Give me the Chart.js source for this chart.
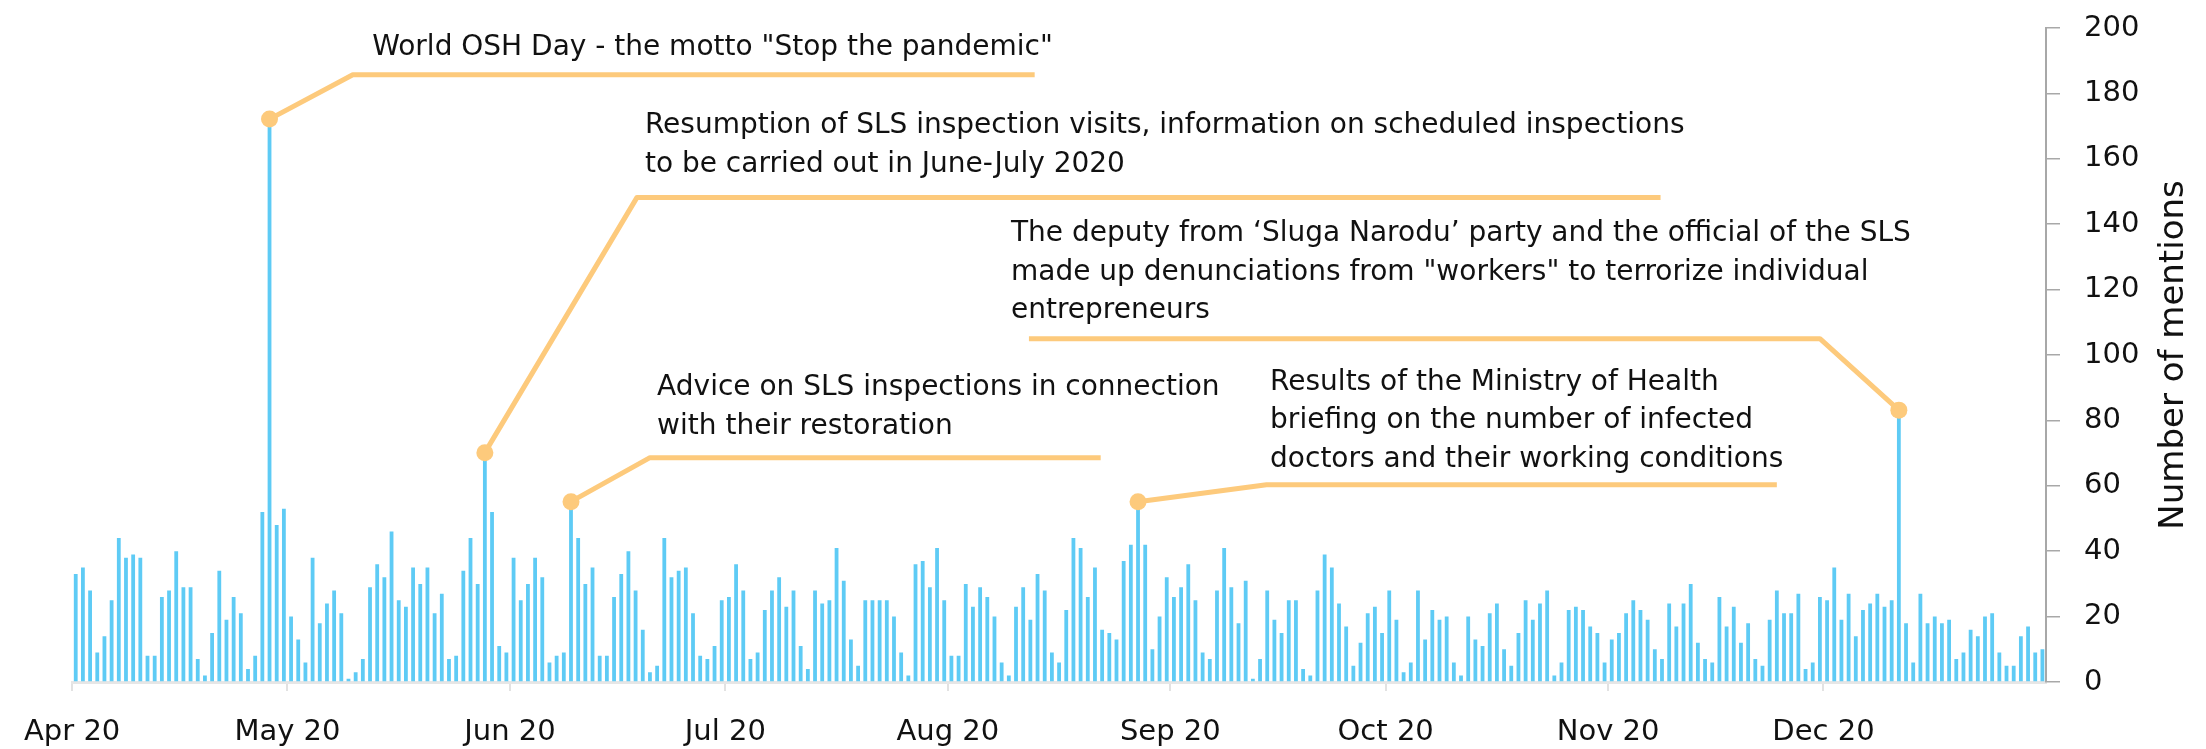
<!DOCTYPE html>
<html>
<head>
<meta charset="utf-8">
<script src="https://cdn.jsdelivr.net/npm/chart.js@4"></script>
<style>
  html, body { margin: 0; padding: 0; background: #fff; }
  #wrap { width: 2206px; height: 749px; }
</style>
</head>
<body>
<div id="wrap"><canvas id="c"></canvas></div>
<script>
// daily mentions, 1 Apr 2020 .. 31 Dec 2020
const mentions = [
  33, 35, 28, 9, 14, 25, 44, 38, 39, 38, 8, 8, 26, 28, 40, 29, 29, 7, 2, 15, 34, 19, 26, 21,
  4, 8, 52, 170, 48, 53, 20, 13, 6, 38, 18, 24, 28, 21, 1, 3, 7, 29, 36, 32, 46, 25, 23, 35, 30,
  35, 21, 27, 7, 8, 34, 44, 30, 68, 52, 11, 9, 38, 25, 30, 38, 32, 6, 8, 9, 53, 44, 30, 35, 8,
  8, 26, 33, 40, 28, 16, 3, 5, 44, 32, 34, 35, 21, 8, 7, 11, 25, 26, 36, 28, 7, 9, 22, 28, 32,
  23, 28, 11, 4, 28, 24, 25, 41, 31, 13, 5, 25, 25, 25, 25, 20, 9, 2, 36, 37, 29, 41, 25, 8, 8,
  30, 23, 29, 26, 20, 6, 2, 23, 29, 19, 33, 28, 9, 6, 22, 44, 41, 26, 35, 16, 15, 13, 37, 42, 53,
  42, 10, 20, 32, 26, 29, 36, 25, 9, 7, 28, 41, 29, 18, 31, 1, 7, 28, 19, 15, 25, 25, 4, 2, 28,
  39, 35, 24, 17, 5, 12, 21, 23, 15, 28, 19, 3, 6, 28, 13, 22, 19, 20, 6, 2, 20, 13, 11, 21, 24,
  10, 5, 15, 25, 19, 24, 28, 2, 6, 22, 23, 22, 17, 15, 6, 13, 15, 21, 25, 22, 19, 10, 7, 24, 17,
  24, 30, 12, 7, 6, 26, 17, 23, 12, 18, 7, 5, 19, 28, 21, 21, 27, 4, 6, 26, 25, 35, 19, 27, 14,
  22, 24, 27, 23, 25, 81, 18, 6, 27, 18, 20, 18, 19, 7, 9, 16, 14, 20, 21, 9, 5, 5, 14, 17, 9, 10
];
// day index where each month starts
const monthStarts = [0, 30, 61, 91, 122, 153, 183, 214, 244];
const monthLabels = ['Apr 20', 'May 20', 'Jun 20', 'Jul 20', 'Aug 20', 'Sep 20', 'Oct 20', 'Nov 20', 'Dec 20'];

// events: which bar they point at and what was said
const eventBars = [27, 57, 69, 148, 254];
const eventTexts = [
  ['World OSH Day - the motto "Stop the pandemic"'],
  ['Resumption of SLS inspection visits, information on scheduled inspections',
   'to be carried out in June-July 2020'],
  ['Advice on SLS inspections in connection',
   'with their restoration'],
  ['Results of the Ministry of Health',
   'briefing on the number of infected',
   'doctors and their working conditions'],
  ['The deputy from \u2018Sluga Narodu\u2019 party and the official of the SLS',
   'made up denunciations from "workers" to terrorize individual',
   'entrepreneurs']
];

// callout layout in axis units (x = days, y = mentions)
const callouts = [
  { elbow: [39.1, 185.7], end: 134.1, tx: 41.8, ty: 194 },
  { elbow: [78.7, 148.2], end: 221.3, tx: 79.8, ty: 170 },
  { elbow: [80.5, 68.6],  end: 143.3, tx: 81.5, ty: 89.9 },
  { elbow: [166.4, 60.3], end: 237.5, tx: 166.9, ty: 91.6 },
  { elbow: [243.5, 105],  end: 133.3, tx: 130.8, ty: 137 }
];

const FONT = '"DejaVu Sans", sans-serif';
const ORANGE = '#fdca7c';

const calloutPlugin = {
  id: 'callouts',
  afterDatasetsDraw(chart) {
    const { ctx, scales: { x, y } } = chart;
    ctx.save();
    callouts.forEach((c, i) => {
      const b = eventBars[i];
      const px = x.getPixelForValue(b + 0.5);
      const py = y.getPixelForValue(mentions[b]) - 7;
      ctx.strokeStyle = ORANGE;
      ctx.lineWidth = 5;
      ctx.lineJoin = 'round';
      ctx.beginPath();
      ctx.moveTo(px, py);
      ctx.lineTo(x.getPixelForValue(c.elbow[0]), y.getPixelForValue(c.elbow[1]));
      ctx.lineTo(x.getPixelForValue(c.end), y.getPixelForValue(c.elbow[1]));
      ctx.stroke();
      ctx.fillStyle = ORANGE;
      ctx.beginPath();
      ctx.arc(px, py, 8.5, 0, Math.PI * 2);
      ctx.fill();

      ctx.fillStyle = '#111';
      ctx.font = '28px ' + FONT;
      ctx.textBaseline = 'middle';
      ctx.textAlign = 'left';
      const tx = x.getPixelForValue(c.tx);
      const ty = y.getPixelForValue(c.ty);
      eventTexts[i].forEach((line, k) => ctx.fillText(line, tx, ty + k * 38.5));
    });

    // y axis title, reading bottom to top
    ctx.fillStyle = '#111';
    ctx.font = '34px ' + FONT;
    ctx.textAlign = 'center';
    ctx.textBaseline = 'middle';
    ctx.translate(y.left + 128, (y.top + y.bottom) / 2);
    ctx.rotate(-Math.PI / 2);
    ctx.fillText('Number of mentions', 0, 0);
    ctx.restore();
  }
};

new Chart(document.getElementById('c'), {
  type: 'bar',
  data: {
    datasets: [{
      data: mentions.map((v, i) => ({ x: i + 0.5, y: v })),
      backgroundColor: '#5ecbf5',
      borderWidth: 0,
      barPercentage: 0.53,
      categoryPercentage: 1
    }]
  },
  options: {
    responsive: true,
    maintainAspectRatio: false,
    animation: false,
    events: [],
    layout: { padding: { left: 71, top: 28, right: 0, bottom: 0 } },
    plugins: { legend: { display: false }, tooltip: { enabled: false } },
    scales: {
      x: {
        type: 'linear',
        min: 0,
        max: 275,
        offset: false,
        afterBuildTicks: s => { s.ticks = monthStarts.map(v => ({ value: v })); },
        afterFit: s => { s.height = 67; },
        ticks: {
          autoSkip: false,
          maxRotation: 0,
          padding: 24,
          color: '#111',
          font: { family: FONT, size: 29 },
          callback: v => monthLabels[monthStarts.indexOf(v)]
        },
        grid: { offset: false, drawOnChartArea: false, tickLength: 9, color: '#e2e2e2', lineWidth: 2 },
        border: { color: '#e6e6e6', width: 3 }
      },
      y: {
        position: 'right',
        min: 0,
        max: 200,
        afterFit: s => { s.width = 160; s.paddingTop = 0; s.paddingBottom = 0; },
        ticks: {
          stepSize: 20,
          padding: 24,
          color: '#111',
          font: { family: FONT, size: 29 }
        },
        grid: { drawOnChartArea: false, tickLength: 14, color: '#a8a8a8', lineWidth: 1.5 },
        border: { color: '#a8a8a8', width: 2 }
      }
    }
  },
  plugins: [calloutPlugin]
});
</script>
</body>
</html>
